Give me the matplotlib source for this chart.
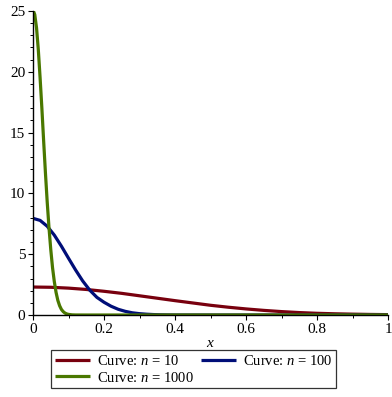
import matplotlib
matplotlib.use("Agg")
import matplotlib.pyplot as plt
from matplotlib.ticker import MultipleLocator, FixedLocator

plt.rcParams["font.family"] = ["Liberation Serif", "DejaVu Serif"]
plt.rcParams["mathtext.fontset"] = "custom"
plt.rcParams["mathtext.it"] = "Liberation Serif:italic"
plt.rcParams["mathtext.rm"] = "Liberation Serif"

# density curves, sampled along x
x_n10 = [0.0, 0.05, 0.10, 0.15, 0.20, 0.25, 0.30, 0.35, 0.40, 0.45, 0.50,
         0.55, 0.60, 0.65, 0.70, 0.75, 0.80, 0.85, 0.90, 0.95, 1.0]
y_n10 = [2.30, 2.28, 2.21, 2.10, 1.95, 1.78, 1.58, 1.38, 1.18, 0.99, 0.80,
         0.64, 0.50, 0.38, 0.28, 0.20, 0.14, 0.10, 0.07, 0.046, 0.03]

x_n100 = [0.0, 0.02, 0.04, 0.06, 0.08, 0.10, 0.12, 0.14, 0.16, 0.18, 0.20,
          0.22, 0.24, 0.26, 0.28, 0.30, 0.32, 0.34, 0.36, 0.38, 0.40, 0.50, 1.0]
y_n100 = [7.95, 7.78, 7.30, 6.57, 5.66, 4.67, 3.70, 2.80, 2.04, 1.45, 1.05,
          0.72, 0.47, 0.30, 0.18, 0.11, 0.065, 0.035, 0.018, 0.009, 0.004, 0.0, 0.0]

x_n1000 = [0.0, 0.005, 0.01, 0.015, 0.02, 0.025, 0.03, 0.035, 0.04, 0.045, 0.05,
           0.055, 0.06, 0.065, 0.07, 0.075, 0.08, 0.085, 0.09, 0.095, 0.10,
           0.11, 0.12, 0.15, 1.0]
y_n1000 = [25.1, 24.7, 23.6, 21.8, 19.5, 17.0, 14.3, 11.7, 9.3, 7.2, 5.4,
           3.9, 2.75, 1.85, 1.2, 0.76, 0.46, 0.28, 0.16, 0.09, 0.05,
           0.013, 0.003, 0.0, 0.0]

labels = ["Curve: $n$ = 10", "Curve: $n$ = 100", "Curve: $n$ = 1000"]
colors = ["#78000E", "#000E78", "#4A7800"]

x_ticks = [0, 0.2, 0.4, 0.6, 0.8, 1]
x_tick_labels = ["0", "0.2", "0.4", "0.6", "0.8", "1"]
y_ticks = [0, 5, 10, 15, 20, 25]

fig = plt.figure(figsize=(3.92, 3.97), dpi=100)
ax = fig.add_axes([33 / 392, 1 - 315 / 397, 355 / 392, 304 / 397])

series = [(x_n10, y_n10), (x_n100, y_n100), (x_n1000, y_n1000)]
handles = []
for (xs, ys), lab, col in zip(series, labels, colors):
    h, = ax.plot(xs, ys, color=col, lw=2.3, label=lab, solid_capstyle="butt")
    handles.append(h)

ax.set_xlim(0, 1)
ax.set_ylim(0, 25)
for side in ("top", "right"):
    ax.spines[side].set_visible(False)
for side in ("left", "bottom"):
    ax.spines[side].set_linewidth(1.0)

ax.xaxis.set_major_locator(FixedLocator(x_ticks))
ax.set_xticklabels(x_tick_labels)
ax.xaxis.set_minor_locator(MultipleLocator(0.1))
ax.yaxis.set_major_locator(FixedLocator(y_ticks))
ax.yaxis.set_minor_locator(MultipleLocator(1))
ax.tick_params(which="major", direction="out", length=3.5, width=0.8,
               labelsize=11, pad=2)
ax.tick_params(which="minor", direction="out", length=2.2, width=0.7)

ax.set_xlabel("$x$", fontsize=11, labelpad=1)

leg = fig.legend([handles[0], handles[2], handles[1]],
                 [labels[0], labels[2], labels[1]],
                 ncol=2, loc="upper center", bbox_to_anchor=(0.494, 1 - 350 / 397),
                 fontsize=10.5, frameon=True, fancybox=False, edgecolor="black",
                 handlelength=2.4, handletextpad=0.5, columnspacing=0.45,
                 borderpad=0.25, labelspacing=0.2, borderaxespad=0)
leg.get_frame().set_linewidth(0.9)

fig.savefig("out.png", dpi=100)
